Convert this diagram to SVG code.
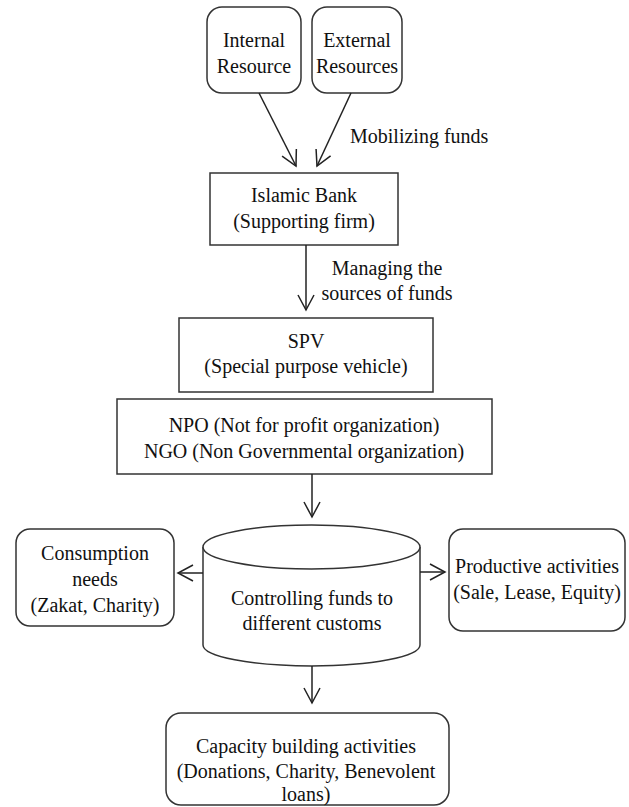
<svg xmlns="http://www.w3.org/2000/svg" width="629" height="807" viewBox="0 0 629 807" font-family="'Liberation Serif', 'Times New Roman', Tinos, 'DejaVu Serif', serif">
  <style>
    .box { fill: #ffffff; stroke: #333333; stroke-width: 1.5; }
    text { font-family: 'Liberation Serif', 'Times New Roman', Tinos, 'DejaVu Serif', serif; font-size: 20px; fill: #111111; }
    .t { text-anchor: middle; }
    .tl { text-anchor: start; }
    .conn { stroke: #222222; stroke-width: 1.5; fill: none; marker-end: url(#arr); }
  </style>
  <defs>
    <marker id="arr" viewBox="-17 -10 19 20" refX="0" refY="0" markerWidth="19" markerHeight="20" markerUnits="userSpaceOnUse" orient="auto">
      <path d="M-15,-8 L0,0 L-15,8" fill="none" stroke="#222222" stroke-width="1.5"/>
    </marker>
  </defs>
  <rect width="629" height="807" fill="#ffffff"/>

  <g id="internal-resource">
    <rect class="box" x="207" y="7" width="94" height="86" rx="15"/>
    <text class="t" x="254" y="47">Internal</text>
    <text class="t" x="254" y="73">Resource</text>
  </g>
  <g id="external-resources">
    <rect class="box" x="312" y="7" width="90" height="86" rx="15"/>
    <text class="t" x="357" y="47">External</text>
    <text class="t" x="357" y="73">Resources</text>
  </g>
  <g id="islamic-bank">
    <rect class="box" x="210" y="173" width="188" height="72"/>
    <text class="t" x="304" y="202">Islamic Bank</text>
    <text class="t" x="304" y="228">(Supporting firm)</text>
  </g>
  <g id="spv">
    <rect class="box" x="179" y="318" width="254" height="74"/>
    <text class="t" x="306" y="348">SPV</text>
    <text class="t" x="306" y="373">(Special purpose vehicle)</text>
  </g>
  <g id="npo-ngo">
    <rect class="box" x="117" y="399" width="375" height="75"/>
    <text class="t" x="304" y="432">NPO (Not for profit organization)</text>
    <text class="t" x="304" y="458">NGO (Non Governmental organization)</text>
  </g>
  <g id="controlling-funds">
    <path class="box" d="M203,547 L203,645 A108.5,21 0 0 0 420,645 L420,547"/>
    <ellipse class="box" cx="311.5" cy="547" rx="108.5" ry="22"/>
    <text class="t" x="312" y="605">Controlling funds to</text>
    <text class="t" x="312" y="630">different customs</text>
  </g>
  <g id="consumption-needs">
    <rect class="box" x="16" y="529" width="158" height="97" rx="14"/>
    <text class="t" x="95" y="560">Consumption</text>
    <text class="t" x="95" y="586">needs</text>
    <text class="t" x="95" y="612">(Zakat, Charity)</text>
  </g>
  <g id="productive-activities">
    <rect class="box" x="449" y="529" width="176" height="102" rx="14"/>
    <text class="t" x="537" y="573">Productive activities</text>
    <text class="t" x="537" y="599">(Sale, Lease, Equity)</text>
  </g>
  <g id="capacity-building">
    <rect class="box" x="166" y="713" width="283" height="92" rx="15"/>
    <text class="t" x="306" y="753">Capacity building activities</text>
    <text class="t" x="306" y="778">(Donations, Charity, Benevolent</text>
    <text class="t" x="306" y="801">loans)</text>
  </g>

  <g id="connectors">
    <line class="conn" x1="259" y1="93" x2="296" y2="166"/>
    <line class="conn" x1="351" y1="93" x2="317" y2="166"/>
    <text class="tl" x="350" y="143">Mobilizing funds</text>
    <line class="conn" x1="306" y1="245" x2="306" y2="310"/>
    <text class="t" x="387" y="275">Managing the</text>
    <text class="t" x="387" y="300">sources of funds</text>
    <line class="conn" x1="312" y1="474" x2="312" y2="517"/>
    <line class="conn" x1="203" y1="573" x2="178" y2="573"/>
    <line class="conn" x1="420" y1="572" x2="445" y2="572"/>
    <line class="conn" x1="312" y1="666" x2="312" y2="703"/>
  </g>
</svg>
